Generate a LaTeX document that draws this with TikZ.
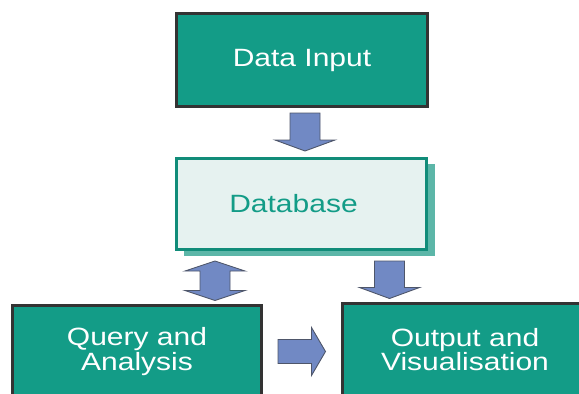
\documentclass[tikz,border=0pt]{standalone}
\usepackage{fontspec}
\newfontfamily\boxfont[FakeStretch=1.2]{Liberation Sans}
\usetikzlibrary{calc}

\definecolor{boxteal}{HTML}{139C87}
\definecolor{dbfill}{HTML}{E6F2F0}
\definecolor{dbshadow}{HTML}{5CB6A8}
\definecolor{arrowblue}{HTML}{7189C4}
\definecolor{arrowline}{HTML}{4E566A}

\tikzset{
    fatarrow/.style={fill=arrowblue,draw=arrowline,line width=0.9pt,line join=miter},
    fatdown/.style={fatarrow,to path={let \p1=(\tikztostart), \p2=(\tikztotarget) in
        (\x1-15pt,\y1) -- (\x1+15pt,\y1) -- (\x1+15pt,\y2+11pt) -- (\x1+30pt,\y2+11pt)
        -- (\x1,\y2) -- (\x1-30pt,\y2+11pt) -- (\x1-15pt,\y2+11pt) -- cycle}},
    fatboth/.style={fatarrow,to path={let \p1=(\tikztostart), \p2=(\tikztotarget) in
        (\x1,\y1) -- (\x1+30pt,\y1-10pt) -- (\x1+15pt,\y1-10pt) -- (\x1+15pt,\y2+10pt)
        -- (\x1+30pt,\y2+10pt) -- (\x1,\y2) -- (\x1-30pt,\y2+10pt) -- (\x1-15pt,\y2+10pt)
        -- (\x1-15pt,\y1-10pt) -- (\x1-30pt,\y1-10pt) -- cycle}},
    fatright/.style={fatarrow,to path={let \p1=(\tikztostart), \p2=(\tikztotarget) in
        (\x1,\y1-12pt) -- (\x2-14pt,\y1-12pt) -- (\x2-14pt,\y1-24pt) -- (\x2,\y1)
        -- (\x2-14pt,\y1+24pt) -- (\x2-14pt,\y1+12pt) -- (\x1,\y1+12pt) -- cycle}}
}

\begin{document}
\begin{tikzpicture}[x=1pt,y=-1pt,
        stage/.style={draw=black!80,line width=3pt,fill=boxteal,text=white,
            align=center,font=\boxfont\fontsize{25}{23}\selectfont,inner sep=0pt},
        store/.style={draw=boxteal!90!black,line width=3pt,fill=dbfill,text=boxteal,
            font=\boxfont\fontsize{25}{23}\selectfont,inner sep=0pt}]
    \useasboundingbox (0,0) rectangle (579,394);
    \clip (0,0) rectangle (579,394);

    % boxes
    \node[stage,minimum width=251pt,minimum height=93pt] (input) at (302,60) {Data Input};
    \fill[dbshadow] (184,164) rectangle (435,256);
    \node[store,minimum width=250pt,minimum height=91pt] (db) at (301.5,204) {Database\kern16pt};
    \node[stage,minimum width=249pt,minimum height=93pt] (query) at (137,351.5) {Query and\\Analysis};
    \node[stage,minimum width=246pt,minimum height=93pt] (out) at (465,349.5) {Output and\\Visualisation};

    % arrows
    \draw[fatdown] ([xshift=3pt,yshift=-5pt]input.south) to ([yshift=6pt]db.north);
    \draw[fatboth] ([xshift=40pt,yshift=-10pt]db.south west) to ([yshift=3pt]query.north);
    \draw[fatdown] ([xshift=88pt,yshift=-10pt]db.south) to ([yshift=3pt]out.north);
    \draw[fatright] ([xshift=15pt]query.east) to ([xshift=-15pt]out.west);
\end{tikzpicture}
\end{document}
